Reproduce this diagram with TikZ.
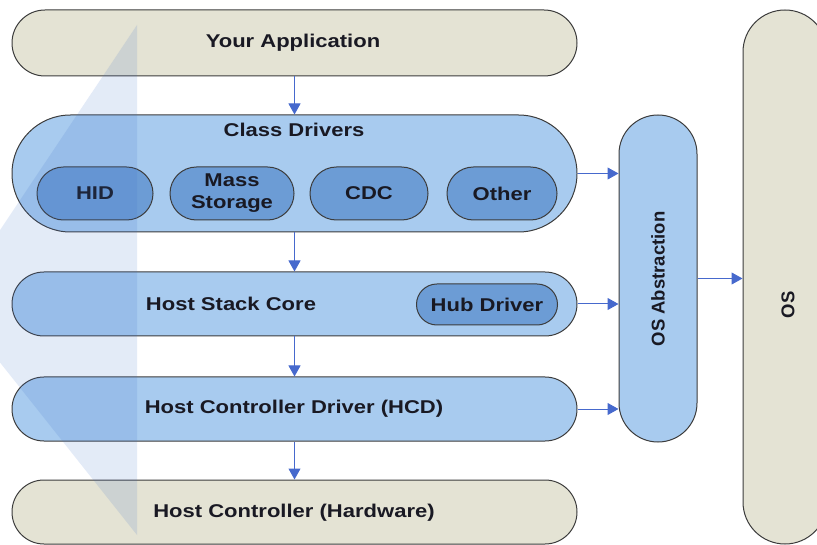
\documentclass[tikz,border=0pt]{standalone}
\usepackage{fontspec}
\setmainfont{Liberation Sans}[FakeStretch=1.19]
\newfontfamily\vfont{Liberation Sans}
\usetikzlibrary{arrows.meta}
\definecolor{beige}{RGB}{228,227,212}
\definecolor{lblue}{RGB}{168,203,239}
\definecolor{dblue}{RGB}{108,156,213}
\definecolor{edge}{RGB}{60,60,60}
\definecolor{txt}{RGB}{25,25,35}
\definecolor{arr}{RGB}{70,105,205}
\definecolor{wedgecol}{RGB}{60,110,200}
\tikzset{
  stadium/.style n args={3}{draw=edge, line width=1pt, fill=#1,
    minimum width=#2, minimum height=#3, inner sep=0pt,
    rounded corners={min(#2,#3)/2-0.05pt}},
  lbl/.style={font=\fontsize{18.5}{22}\selectfont\bfseries, text=txt, inner sep=0pt, align=center},
  vlbl/.style={font=\fontsize{18.5}{22}\selectfont\vfont\bfseries, text=txt, inner sep=0pt, rotate=90},
  flow/.style={draw=arr, line width=1pt, -{Triangle[length=11pt,width=12pt]}}
}
\begin{document}
\begin{tikzpicture}[x=1pt,y=-1pt]
\useasboundingbox (0,0) rectangle (817,545);
\begin{scope}
\clip (0,0) rectangle (817,545);
% operating system column and its abstraction layer
\node[stadium={beige}{84pt}{534pt}] (os) at (785,277) {};
\node[vlbl] (ostxt) at (788,305) {OS};
\node[stadium={lblue}{78pt}{327pt}] (osa) at (658,278.5) {};
\node[vlbl] (osatxt) at (658,279) {OS Abstraction};
% layered stack
\node[stadium={beige}{565pt}{66pt}] (app) at (294.5,43) {};
\node[lbl] at (293,43) {Your Application};
\node[stadium={lblue}{565pt}{117pt}] (cls) at (294.5,173.5) {};
\node[lbl] (clstxt) at (294,130) {Class Drivers};
\node[stadium={dblue}{116pt}{53pt}] (hid) at (95,193.5) {};
\node[lbl] at (95,193.5) {HID};
\node[stadium={dblue}{124pt}{53pt}] (mass) at (232,193.5) {};
\node[lbl] at (232,193.5) {Mass\\Storage};
\node[stadium={dblue}{118pt}{53pt}] (cdc) at (369,193.5) {};
\node[lbl] at (369,193.5) {CDC};
\node[stadium={dblue}{110pt}{53pt}] (other) at (502,193.5) {};
\node[lbl] at (502,193.5) {Other};
\node[stadium={lblue}{565pt}{64pt}] (hsc) at (294.5,304) {};
\node[lbl] at (231,304) {Host Stack Core};
\node[stadium={dblue}{141pt}{41pt}] (hub) at (487,304.5) {};
\node[lbl] at (487,304.5) {Hub Driver};
\node[stadium={lblue}{565pt}{64pt}] (hcd) at (294.5,409) {};
\node[lbl] at (294,409) {Host Controller Driver (HCD)};
\node[stadium={beige}{565pt}{64pt}] (hw) at (294.5,512) {};
\node[lbl] at (294,513) {Host Controller (Hardware)};
% translucent wedge on the left
\fill[wedgecol, fill opacity=0.14] (137,25) -- (137,535) -- (-48,302) -- cycle;
% connectors
\draw[flow] (app.south) -- (cls.north);
\draw[flow] (cls.south) -- (hsc.north);
\draw[flow] (hsc.south) -- (hcd.north);
\draw[flow] (hcd.south) -- (hw.north);
\draw[flow] (cls.east) -- (cls.east -| osa.west);
\draw[flow] (hsc.east) -- (hsc.east -| osa.west);
\draw[flow] (hcd.east) -- (hcd.east -| osa.west);
\draw[flow] (osa.east) -- (osa.east -| os.west);
\end{scope}
\end{tikzpicture}
\end{document}
